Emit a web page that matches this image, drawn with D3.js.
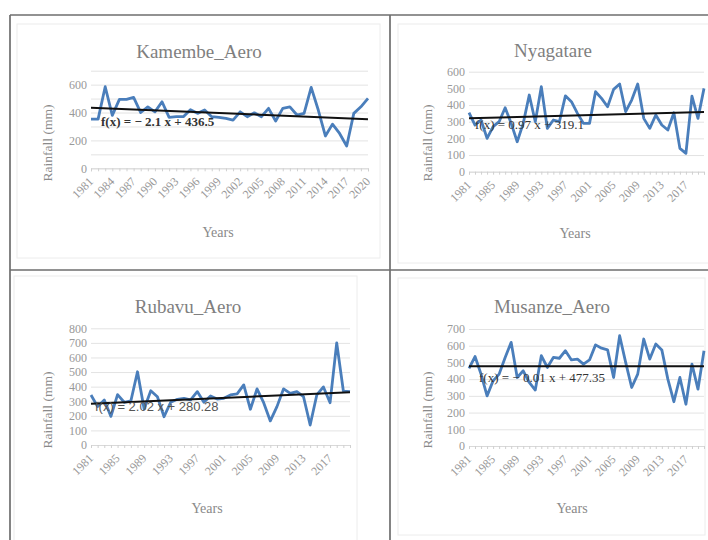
<!DOCTYPE html>
<html>
<head>
<meta charset="utf-8">
<script src="https://cdn.jsdelivr.net/npm/d3@7"></script>
<style>
  body { margin: 0; background: #fff; }
  svg { display: block; }
</style>
</head>
<body>
<svg id="chart" width="708" height="540"></svg>
<script>
// Annual rainfall (mm) at four Rwandan stations, 1981-2020
const years = [1981,1982,1983,1984,1985,1986,1987,1988,1989,1990,
               1991,1992,1993,1994,1995,1996,1997,1998,1999,2000,
               2001,2002,2003,2004,2005,2006,2007,2008,2009,2010,
               2011,2012,2013,2014,2015,2016,2017,2018,2019,2020];

const kamembeRain   = [353,353,585,380,494,494,508,400,441,405,
                       477,365,370,370,420,394,418,370,365,358,
                       346,405,370,398,370,430,339,430,441,382,
                       394,580,418,232,317,250,160,394,441,501];
const nyagatareRain = [354,280,310,200,270,300,384,290,180,290,
                       460,300,510,260,310,300,455,420,350,290,
                       290,480,440,390,494,526,360,430,526,320,
                       260,340,280,250,354,140,110,454,320,500];
const rubavuRain    = [343,263,309,196,345,293,302,502,247,372,
                       331,194,293,313,320,309,366,293,336,315,
                       320,343,350,412,245,385,290,165,263,385,
                       354,366,331,137,343,398,290,700,370,366];
const musanzeRain   = [465,535,430,300,390,430,530,620,410,450,
                       380,335,540,470,530,525,570,515,520,490,
                       515,605,585,575,410,660,500,350,430,640,
                       520,610,575,400,265,410,250,490,340,570];

// Category labels shown under each x axis
const kamembeYearTicks = [1981,1984,1987,1990,1993,1996,1999,2002,2005,2008,2011,2014,2017,2020];
const fourYearTicks    = [1981,1985,1989,1993,1997,2001,2005,2009,2013,2017];

// Value-axis labels
const kamembeRainTicks   = [0,200,400,600];
const nyagatareRainTicks = [0,100,200,300,400,500,600];
const rubavuRainTicks    = [0,100,200,300,400,500,600,700,800];
const musanzeRainTicks   = [0,100,200,300,400,500,600,700];

// Linear trend f(x) = a x + b, with x = 1 for 1981
const stationNames    = ["Kamembe_Aero", "Nyagatare", "Rubavu_Aero", "Musanze_Aero"];
const trendSlopes     = [-2.1, 0.97, 2.02, -0.01];
const trendIntercepts = [436.5, 319.1, 280.28, 477.35];
const trendLabels     = ["f(x) = − 2.1 x + 436.5", "f(x) = 0.97 x + 319.1",
                         "f(x) = 2.02 x + 280.28", "f(x) = − 0.01 x + 477.35"];

const svg = d3.select("#chart");
const SERIF = "'Liberation Serif', 'Times New Roman', serif";
const SANS = "'Liberation Sans', Arial, sans-serif";

// Layout of the four panels
const panels = [
  { values: kamembeRain, xTicks: kamembeYearTicks, yTicks: kamembeRainTicks, yMax: 700,
    x0: 91, x1: 368, yTop: 70.7, yBottom: 168.3,
    box: [17, 24, 363, 234], title: [199, 58], yTitle: [47, 143], xTitle: [218, 237],
    eq: [101, 126], eqFont: SERIF, eqWeight: "bold", eqColor: "#333" },
  { values: nyagatareRain, xTicks: fourYearTicks, yTicks: nyagatareRainTicks, yMax: 600,
    x0: 469, x1: 704, yTop: 71.7, yBottom: 171.7,
    box: [398, 24, 320, 239], title: [553, 57], yTitle: [427, 143], xTitle: [575, 238],
    eq: [475, 129], eqFont: SERIF, eqWeight: "normal", eqColor: "#333" },
  { values: rubavuRain, xTicks: fourYearTicks, yTicks: rubavuRainTicks, yMax: 800,
    x0: 91, x1: 350, yTop: 328.3, yBottom: 445,
    box: [14, 276, 343, 270], title: [188, 313], yTitle: [47, 410], xTitle: [207, 513],
    eq: [95, 411], eqFont: SANS, eqWeight: "normal", eqColor: "#555" },
  { values: musanzeRain, xTicks: fourYearTicks, yTicks: musanzeRainTicks, yMax: 700,
    x0: 469, x1: 704, yTop: 329, yBottom: 446,
    box: [398, 278, 307, 257], title: [552, 313], yTitle: [427, 410], xTitle: [572, 513],
    eq: [479, 382], eqFont: SERIF, eqWeight: "normal", eqColor: "#333" }
];

// Outer frame and dividers
const frame = svg.append("g").attr("stroke", "#6e6e6e").attr("stroke-width", 1.7);
frame.append("line").attr("x1", 10).attr("y1", 15).attr("x2", 708).attr("y2", 15);
frame.append("line").attr("x1", 10).attr("y1", 15).attr("x2", 10).attr("y2", 540);
frame.append("line").attr("x1", 390).attr("y1", 15).attr("x2", 390).attr("y2", 540);
frame.append("line").attr("x1", 10).attr("y1", 270).attr("x2", 708).attr("y2", 270);

panels.forEach((p, k) => {
  const g = svg.append("g");

  // chart area border
  g.append("rect")
    .attr("x", p.box[0]).attr("y", p.box[1])
    .attr("width", p.box[2]).attr("height", p.box[3])
    .attr("fill", "none").attr("stroke", "#ececec").attr("stroke-width", 1);

  const x = d3.scalePoint().domain(years).range([p.x0, p.x1]);
  const y = d3.scaleLinear().domain([0, p.yMax]).range([p.yBottom, p.yTop]);

  // horizontal gridlines every 100 mm
  g.append("g")
    .attr("transform", `translate(${p.x0},0)`)
    .call(d3.axisLeft(y).tickValues(d3.range(0, p.yMax + 1, 100))
      .tickSize(-(p.x1 - p.x0)).tickFormat(""))
    .call(s => {
      s.select(".domain").remove();
      s.selectAll("line").attr("stroke", "#e3e3e3").attr("stroke-width", 1);
    });

  // value-axis labels
  g.append("g")
    .attr("transform", `translate(${p.x0 - 4},0)`)
    .call(d3.axisLeft(y).tickValues(p.yTicks).tickSize(0).tickPadding(0))
    .call(s => {
      s.select(".domain").remove();
      s.selectAll("text")
        .attr("font-family", SERIF).attr("font-size", 12)
        .attr("fill", "#999");
    });

  // category axis with a tick at every year
  g.append("g")
    .attr("transform", `translate(0,${p.yBottom})`)
    .call(d3.axisBottom(x).tickSize(3).tickFormat(""))
    .call(s => {
      s.select(".domain").attr("stroke", "#d9d9d9");
      s.selectAll("line").attr("stroke", "#d0d0d0");
    });

  // rotated year labels
  g.append("g").selectAll("text")
    .data(p.xTicks)
    .join("text")
    .attr("transform", d => `translate(${x(d) + 3},${p.yBottom + 14}) rotate(-45)`)
    .attr("text-anchor", "end")
    .attr("font-family", SERIF).attr("font-size", 12)
    .attr("fill", "#999")
    .text(d => d);

  // rainfall series
  const line = d3.line().x((d, i) => x(years[i])).y(d => y(d));
  g.append("path")
    .datum(p.values)
    .attr("d", line)
    .attr("fill", "none")
    .attr("stroke", "#4a7ebb")
    .attr("stroke-width", 2.8)
    .attr("stroke-linejoin", "round");

  // linear trend line
  const a = trendSlopes[k], b = trendIntercepts[k];
  const n = years.length;
  g.append("line")
    .attr("x1", x(years[0])).attr("y1", y(a * 1 + b))
    .attr("x2", x(years[n - 1])).attr("y2", y(a * n + b))
    .attr("stroke", "#111").attr("stroke-width", 2);

  // trend equation
  g.append("text")
    .attr("x", p.eq[0]).attr("y", p.eq[1])
    .attr("font-family", p.eqFont).attr("font-size", 13)
    .attr("font-weight", p.eqWeight)
    .attr("fill", p.eqColor)
    .text(trendLabels[k]);

  // titles
  g.append("text")
    .attr("x", p.title[0]).attr("y", p.title[1])
    .attr("text-anchor", "middle")
    .attr("font-family", SERIF).attr("font-size", 19)
    .attr("fill", "#7f7f7f")
    .text(stationNames[k]);

  g.append("text")
    .attr("transform", `translate(${p.yTitle[0]},${p.yTitle[1]}) rotate(-90)`)
    .attr("text-anchor", "middle")
    .attr("dominant-baseline", "central")
    .attr("font-family", SERIF).attr("font-size", 13.5)
    .attr("fill", "#8a8a8a")
    .text("Rainfall (mm)");

  g.append("text")
    .attr("x", p.xTitle[0]).attr("y", p.xTitle[1])
    .attr("text-anchor", "middle")
    .attr("font-family", SERIF).attr("font-size", 14)
    .attr("fill", "#8a8a8a")
    .text("Years");
});
</script>
</body>
</html>
